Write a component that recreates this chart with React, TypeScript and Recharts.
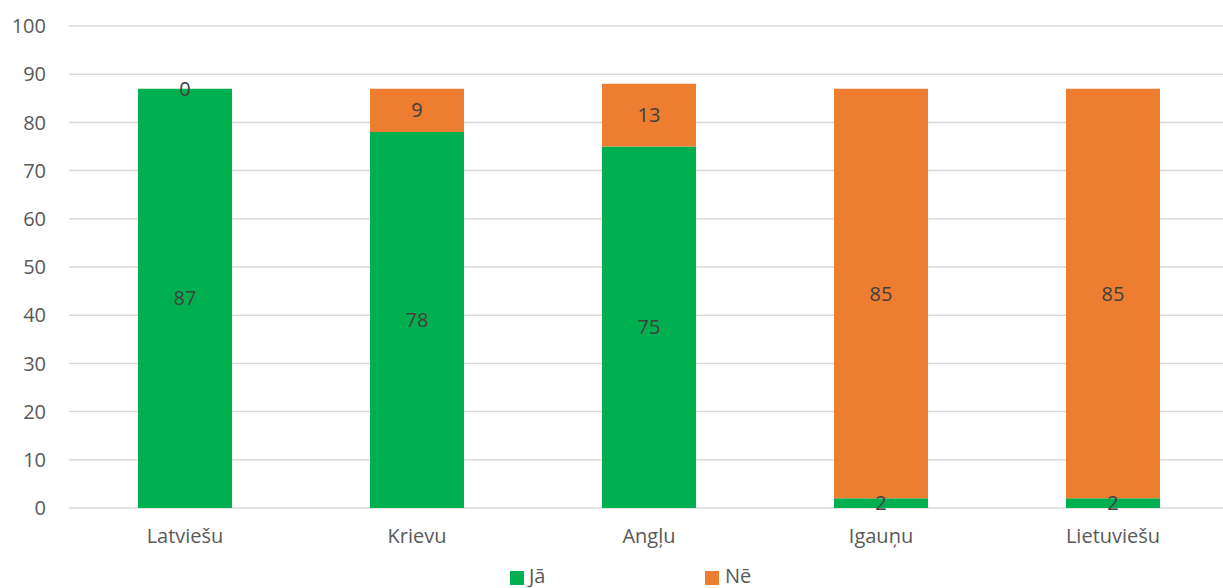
import React from "react";
import { BarChart, Bar, XAxis, YAxis, CartesianGrid, LabelList } from "recharts";

const categories = ["Latviešu", "Krievu", "Angļu", "Igauņu", "Lietuviešu"];
const jaValues = [87, 78, 75, 2, 2];
const neValues = [0, 9, 13, 85, 85];
const yTicks = [0, 10, 20, 30, 40, 50, 60, 70, 80, 90, 100];

const data = categories.map((c, i) => ({ name: c, ja: jaValues[i], ne: neValues[i] }));

const FONT = "'Open Sans', sans-serif";
const GREEN = "#00B050";
const ORANGE = "#ED7D31";

const labelText = (cx: number, cy: number, value: any, key: string) => (
  <text key={key} x={cx} y={cy} dy="0.35em" textAnchor="middle" fill="#404040" fontSize={20} fontFamily={FONT}>
    {String(value)}
  </text>
);

const renderJaLabel = (props: any) => {
  const { x, y, width, height, value, index } = props;
  const cx = Number(x) + Number(width) / 2;
  const cy = Number(y) + Number(height) / 2;
  const ne = neValues[index];
  return (
    <g>
      {labelText(cx, cy, value, "ja")}
      {ne === 0 ? labelText(cx, Number(y), ne, "ne") : null}
    </g>
  );
};

const renderNeLabel = (props: any) => {
  const { x, y, width, height, value } = props;
  if (!value) return null;
  const cx = Number(x) + Number(width) / 2;
  const cy = Number(y) + Number(height) / 2;
  return labelText(cx, cy, value, "ne");
};

export default function App() {
  return (
    <div style={{ position: "absolute", left: 0, top: 0, width: 1223, height: 588, overflow: "hidden", background: "#fff" }}>
      <BarChart
        width={1240}
        height={588}
        data={data}
        margin={{ top: 26, right: 11, bottom: 0, left: 0 }}
        barCategoryGap={0}
      >
        <CartesianGrid vertical={false} stroke="#D9D9D9" strokeWidth={1.5} />
        <XAxis
          dataKey="name"
          axisLine={false}
          tickLine={false}
          tickSize={0}
          tickMargin={21}
          height={80}
          interval={0}
          tick={{ fill: "#595959", fontSize: 20, fontFamily: FONT }}
        />
        <YAxis
          domain={[0, 100]}
          ticks={yTicks}
          axisLine={false}
          tickLine={false}
          tickSize={0}
          tickMargin={23}
          width={69}
          tick={{ fill: "#595959", fontSize: 20, fontFamily: FONT }}
        />
        <Bar dataKey="ja" stackId="a" fill={GREEN} barSize={94} isAnimationActive={false}>
          <LabelList dataKey="ja" content={renderJaLabel} />
        </Bar>
        <Bar dataKey="ne" stackId="a" fill={ORANGE} barSize={94} isAnimationActive={false}>
          <LabelList dataKey="ne" content={renderNeLabel} />
        </Bar>
      </BarChart>
      <div style={{ position: "absolute", top: 566, left: 0, width: 1223, height: 22, fontFamily: FONT, fontSize: 20, color: "#595959" }}>
        <div style={{ position: "absolute", left: 510, top: 5, width: 14, height: 14, background: GREEN }} />
        <div style={{ position: "absolute", left: 529, top: -3, lineHeight: "26px" }}>Jā</div>
        <div style={{ position: "absolute", left: 705, top: 5, width: 14, height: 14, background: ORANGE }} />
        <div style={{ position: "absolute", left: 725, top: -3, lineHeight: "26px" }}>Nē</div>
      </div>
    </div>
  );
}
